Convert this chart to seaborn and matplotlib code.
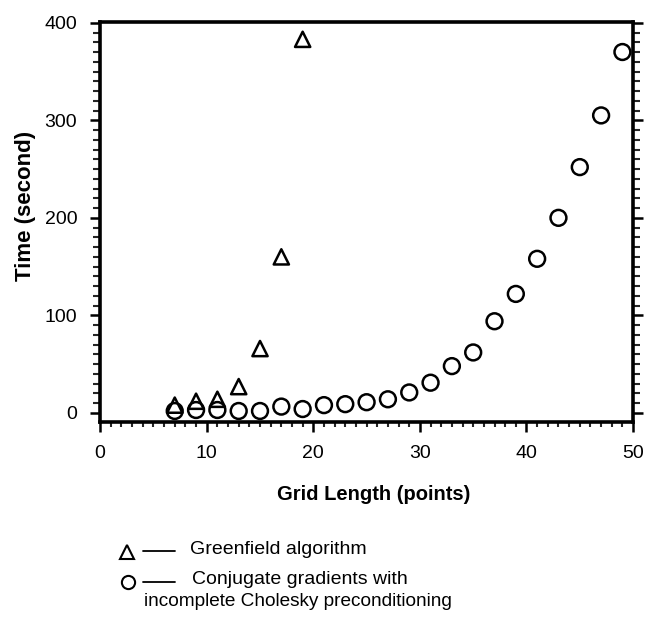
import matplotlib
matplotlib.use("Agg")
import matplotlib.pyplot as plt
import seaborn as sns
import pandas as pd
from matplotlib.lines import Line2D
from matplotlib.ticker import MultipleLocator

# Data
greenfield_x = [7, 9, 11, 13, 15, 17, 19]
greenfield_y = [8, 12, 14, 27, 66, 160, 383]
cg_x = [7, 9, 11, 13, 15, 17, 19, 21, 23, 25, 27, 29, 31, 33, 35, 37, 39, 41, 43, 45, 47, 49]
cg_y = [2, 3, 3, 2, 2, 6.5, 4, 8, 9, 11, 14, 21, 31, 48, 62, 94, 122, 158, 200, 252, 305, 370]
x_ticks = [0, 10, 20, 30, 40, 50]
y_ticks = [0, 100, 200, 300, 400]

sns.set_style("ticks")
plt.rcParams['font.family'] = ['Liberation Sans', 'DejaVu Sans']
plt.rcParams['text.color'] = 'black'
plt.rcParams['axes.labelcolor'] = 'black'

W, H = 646, 622
fig = plt.figure(figsize=(W / 100, H / 100), dpi=100)
ax = fig.add_axes([0.155, 0.322, 0.825, 0.643])

df_g = pd.DataFrame({"x": greenfield_x, "y": greenfield_y})
df_c = pd.DataFrame({"x": cg_x, "y": cg_y})

sns.scatterplot(data=df_g, x="x", y="y", ax=ax, marker="^", s=120,
                facecolor="none", edgecolor="black", linewidth=1.8, zorder=3)
sns.scatterplot(data=df_c, x="x", y="y", ax=ax, marker="o", s=130,
                facecolor="none", edgecolor="black", linewidth=1.8, zorder=3)

ax.set_xlim(0, 50)
ax.set_ylim(-9, 401)
ax.set_xticks(x_ticks)
ax.set_yticks(y_ticks)
ax.xaxis.set_minor_locator(MultipleLocator(1))
ax.yaxis.set_minor_locator(MultipleLocator(10))

for s in ax.spines.values():
    s.set_linewidth(2.6)
    s.set_color("black")

ax.tick_params(axis="both", which="major", direction="out", length=7.5, width=1.8,
               labelsize=14, colors="black", pad=9)
ax.tick_params(axis="x", which="minor", direction="out", length=3.5, width=1.5)
ax.tick_params(axis="y", which="minor", direction="out", length=5, width=1.5)
ax.tick_params(axis="y", which="both", left=True, right=True, labelright=False)
ax.tick_params(axis="x", which="both", bottom=True, top=False)

ax.set_xlabel("Grid Length (points)", fontsize=14.5, fontweight="bold", labelpad=17,
              color="black")
ax.set_ylabel("Time (second)", fontsize=16, fontweight="bold", labelpad=6,
              color="black")
ax.xaxis.label.set_x(0.513)
ax.yaxis.label.set_y(0.54)


def fx(px):
    return px / W


def fy(py):
    return 1 - py / H


# Legend drawn below the plot
fs = 14
fig.add_artist(Line2D([fx(127)], [fy(552)], transform=fig.transFigure,
                      marker="^", markersize=10, markerfacecolor="none",
                      markeredgecolor="black", markeredgewidth=1.5, linestyle="none"))
fig.add_artist(Line2D([fx(143), fx(175)], [fy(551)] * 2,
                      transform=fig.transFigure, color="black", linewidth=1.3))
fig.text(fx(190), fy(550), "Greenfield algorithm", fontsize=fs,
         va="center", ha="left", color="black")

fig.add_artist(Line2D([fx(128)], [fy(582)], transform=fig.transFigure,
                      marker="o", markersize=9.5, markerfacecolor="none",
                      markeredgecolor="black", markeredgewidth=1.5, linestyle="none"))
fig.add_artist(Line2D([fx(143), fx(175)], [fy(582)] * 2,
                      transform=fig.transFigure, color="black", linewidth=1.3))
fig.text(fx(192), fy(580), "Conjugate gradients with", fontsize=fs,
         va="center", ha="left", color="black")
fig.text(fx(144), fy(601), "incomplete Cholesky preconditioning", fontsize=13.7,
         va="center", ha="left", color="black")

fig.savefig("out.png", dpi=100)
